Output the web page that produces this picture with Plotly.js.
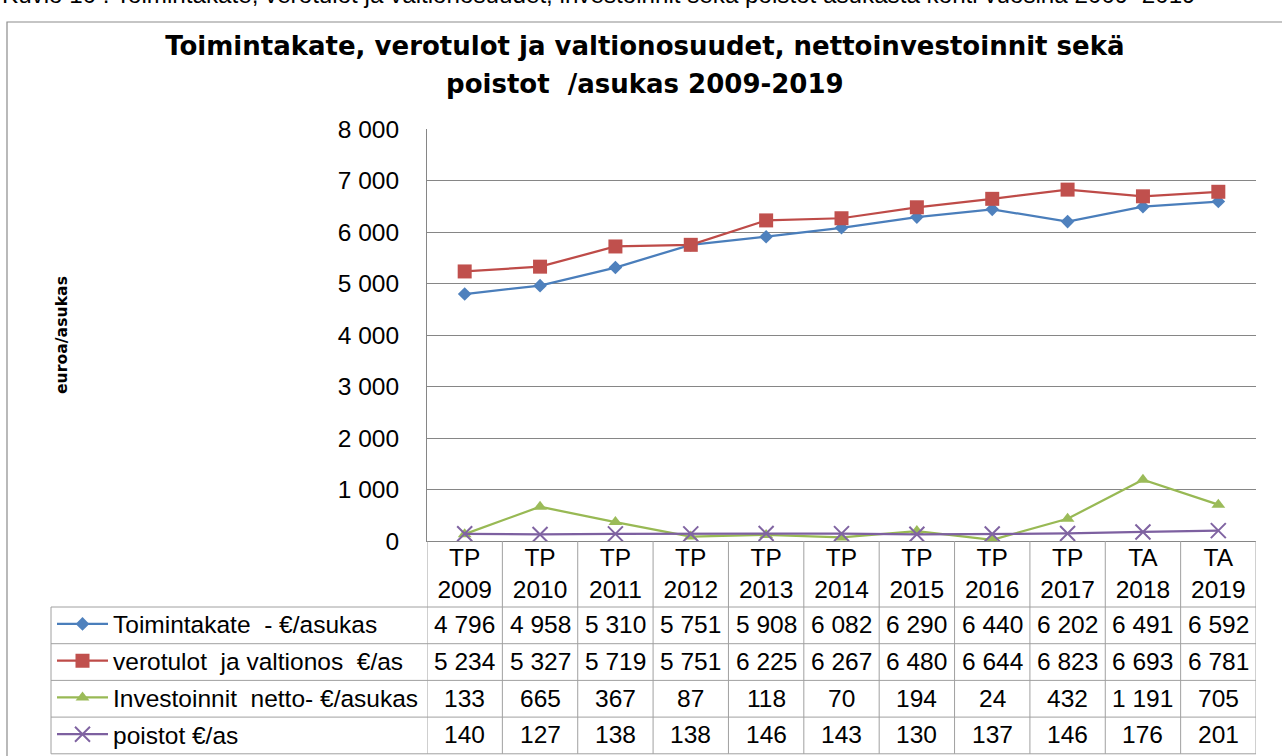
<!DOCTYPE html>
<html>
<head>
<meta charset="utf-8">
<script src="https://cdn.plot.ly/plotly-3.0.1.min.js"></script>
<style>
html,body{margin:0;padding:0;background:#fff;}
#chart{width:1282px;height:756px;}
</style>
</head>
<body>
<div id="chart"></div>
<script>
// ---- data ----
const categories = ["TP 2009","TP 2010","TP 2011","TP 2012","TP 2013","TP 2014","TP 2015","TP 2016","TP 2017","TA 2018","TA 2019"];
const tickLabels = ["TP<br>2009","TP<br>2010","TP<br>2011","TP<br>2012","TP<br>2013","TP<br>2014","TP<br>2015","TP<br>2016","TP<br>2017","TA<br>2018","TA<br>2019"];
const seriesNames = ["Toimintakate  - €/asukas","verotulot  ja valtionos  €/as","Investoinnit  netto- €/asukas","poistot €/as"];
const toimintakate = [4796,4958,5310,5751,5908,6082,6290,6440,6202,6491,6592];
const verotulot = [5234,5327,5719,5751,6225,6267,6480,6644,6823,6693,6781];
const investoinnit = [133,665,367,87,118,70,194,24,432,1191,705];
const poistot = [140,127,138,138,146,143,130,137,146,176,201];
const yTicks = [0,1000,2000,3000,4000,5000,6000,7000,8000];
const chartTitle = "Toimintakate, verotulot ja valtionosuudet, nettoinvestoinnit sekä<br>poistot  /asukas 2009-2019";
const yTitle = "euroa/asukas";
const caption = "Kuvio 10 : Toimintakate, verotulot ja valtionosuudet, investoinnit sekä poistot asukasta kohti vuosina 2009–2019";

// ---- layout helpers (pixel -> paper) ----
const W = 1282, H = 756;
const L = 427, R = 1256, T = 129, B = 541;
const px = x => (x - L) / (R - L);
const py = y => (B - y) / (B - T);

const fmt = v => String(v).replace(/\B(?=(\d{3})+(?!\d))/g, " ");

const series = [toimintakate, verotulot, investoinnit, poistot];
const lineColors = ["#4A7EBB","#BE4B48","#98B954","#7D60A0"];
const markerColors = ["#4F81BD","#C0504D","#9BBB59","#8064A2"];
const symbols = ["diamond","square","triangle-up","x-thin-open"];
const sizes = [10.5,14,12,15];

const traces = series.map((vals, i) => ({
  type: "scatter",
  mode: "lines+markers",
  name: seriesNames[i],
  legendgroup: "g" + i,
  x: categories,
  y: vals,
  line: {color: lineColors[i], width: 2.25},
  marker: symbols[i] === "x-thin-open"
    ? {symbol: symbols[i], size: sizes[i], color: markerColors[i], line: {color: markerColors[i], width: 2}}
    : {symbol: symbols[i], size: sizes[i], color: markerColors[i], line: {width: 0}},
  hoverinfo: "x+y+name"
}));

// table rows (pixel tops of rows)
const rowLines = [607, 643.7, 680.4, 717.1, 753.8];
const rowCenters = [0,1,2,3].map(i => (rowLines[i] + rowLines[i+1]) / 2 - 0.7);

const FONT = "Liberation Sans, Arial, sans-serif";
const BOLD = "DejaVu Sans, Verdana, sans-serif";
const FS = 24.5;
const gridColor = "#A0A0A0";
const shapes = [];
// outer chart frame
shapes.push({type:"rect", xref:"paper", yref:"paper", x0:px(7), x1:px(1300), y0:py(22), y1:py(780),
  line:{color:"#8C8C8C", width:1.2}, fillcolor:"rgba(0,0,0,0)", layer:"below"});
// horizontal table lines
rowLines.forEach(y => shapes.push({type:"line", xref:"paper", yref:"paper", x0:px(51), x1:px(R), y0:py(y), y1:py(y),
  line:{color:gridColor, width:1}}));
// vertical lines at category boundaries
for (let i = 0; i <= categories.length; i++) {
  shapes.push({type:"line", xref:"x", yref:"paper", x0:i-0.5, x1:i-0.5, y0:py(B), y1:py(rowLines[4]),
    line:{color:gridColor, width:1}});
}
// left border of legend column
shapes.push({type:"line", xref:"paper", yref:"paper", x0:px(51), x1:px(51), y0:py(rowLines[0]), y1:py(rowLines[4]),
  line:{color:gridColor, width:1}});

const annotations = [];
series.forEach((vals, r) => {
  vals.forEach((v, c) => {
    annotations.push({xref:"x", yref:"paper", x:categories[c], y:py(rowCenters[r]), text:fmt(v),
      showarrow:false, xanchor:"center", yanchor:"middle",
      font:{family:FONT, size:FS, color:"#000"}});
  });
});
// cut-off caption at top
annotations.push({xref:"paper", yref:"paper", x:px(0), y:py(10), xanchor:"left", yanchor:"bottom",
  text:caption, showarrow:false,
  font:{family:"Liberation Sans Narrow, Arial Narrow, Liberation Sans, sans-serif", size:24.2, color:"#000"}});

const layout = {
  width: W, height: H,
  margin: {l: L, r: W - R, t: T, b: H - B, autoexpand: false},
  paper_bgcolor: "#fff", plot_bgcolor: "#fff",
  separators: ", ",
  title: {
    text: '<span style="font-size:26px">' + chartTitle + '</span>',
    x: 0.503, xref: "container", xanchor: "center",
    y: 1 - 55/H, yref: "container", yanchor: "top",
    font: {family: BOLD, size: 29, color: "#000", weight: 700}
  },
  xaxis: {
    type: "category",
    range: [-0.5, categories.length - 0.5],
    tickvals: categories, ticktext: tickLabels,
    showgrid: false, zeroline: false,
    showline: true, linecolor: "#868686", linewidth: 1,
    ticks: "", ticklabelstandoff: -5,
    tickfont: {family: FONT, size: FS, color: "#000"},
    fixedrange: true
  },
  yaxis: {
    range: [0, 8000],
    tickvals: yTicks,
    tickformat: ",d",
    showgrid: true, gridcolor: "#868686", gridwidth: 1,
    zeroline: false,
    showline: true, linecolor: "#868686", linewidth: 1,
    ticks: "", ticklabelstandoff: 22,
    tickfont: {family: FONT, size: FS, color: "#000"},
    title: {text: yTitle, standoff: 266, font: {family: BOLD, size: 15.7, color: "#000", weight: 700}},
    fixedrange: true
  },
  showlegend: true,
  legend: {
    x: px(52), xanchor: "left", xref: "paper",
    y: py(601.5), yanchor: "top", yref: "paper",
    bgcolor: "rgba(0,0,0,0)", borderwidth: 0,
    itemwidth: 51, tracegroupgap: 1.9,
    font: {family: FONT, size: FS, color: "#000"},
    traceorder: "grouped"
  },
  shapes: shapes,
  annotations: annotations
};

Plotly.newPlot("chart", traces, layout, {displayModeBar: false, staticPlot: true});
</script>
</body>
</html>
